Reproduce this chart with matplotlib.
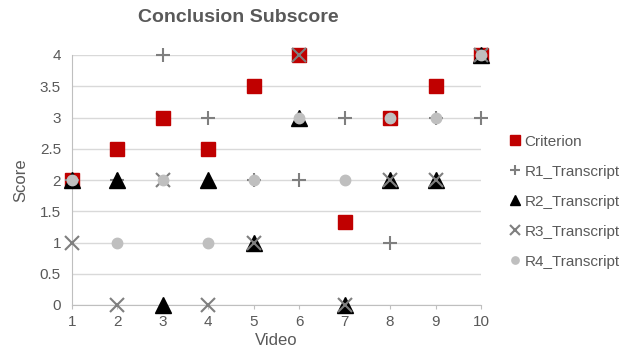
import matplotlib
matplotlib.use('Agg')
import matplotlib.pyplot as plt
from matplotlib.lines import Line2D

plt.rcParams['font.family'] = ['Liberation Sans', 'DejaVu Sans']

# ---- data ----
videos = [1, 2, 3, 4, 5, 6, 7, 8, 9, 10]
criterion = [2, 2.5, 3, 2.5, 3.5, 4, 1.33, 3, 3.5, 4]
r1 = [2, 2, 4, 3, 2, 2, 3, 1, 3, 3]
r2 = [2, 2, 0, 2, 1, 3, 0, 2, 2, 4]
r3 = [1, 0, 2, 0, 1, 4, 0, 2, 2, 4]
r4 = [2, 1, 2, 1, 2, 3, 2, 3, 3, 4]
y_ticks = [0, 0.5, 1, 1.5, 2, 2.5, 3, 3.5, 4]

TEXT = '#595959'
GRID = '#D9D9D9'

fig = plt.figure(figsize=(6.23, 3.64), dpi=100)
ax = fig.add_axes([72 / 623, 1 - 305 / 364, (481 - 72) / 623, 250 / 364])

series = [
    ('Criterion', criterion, dict(marker='s', color='#C00000', ms=10.5)),
    ('R1_Transcript', r1, dict(marker='+', color='#7F7F7F', ms=10, mew=1.5)),
    ('R2_Transcript', r2, dict(marker='^', color='#000000', ms=11)),
    ('R3_Transcript', r3, dict(marker='x', color='#7F7F7F', ms=10, mew=1.5)),
    ('R4_Transcript', r4, dict(marker='o', color='#BFBFBF', ms=7.5)),
]
for name, vals, style in series:
    ax.plot(videos, vals, linestyle='none', clip_on=False, zorder=3,
            label=name, **style)

ax.set_xlim(1, 10)
ax.set_ylim(0, 4)
ax.set_xticks(videos)
ax.set_yticks(y_ticks)
ax.set_yticklabels(['0', '0.5', '1', '1.5', '2', '2.5', '3', '3.5', '4'])
ax.grid(axis='y', color=GRID, linewidth=1)
ax.set_axisbelow(True)
for side in ['top', 'right']:
    ax.spines[side].set_visible(False)
for side in ['left', 'bottom']:
    ax.spines[side].set_color('#BFBFBF')
ax.tick_params(colors=TEXT, labelsize=11, length=0, pad=8)
ax.tick_params(axis='x', length=3, color='#BFBFBF', direction='out', pad=4)

ax.set_xlabel('Video', color=TEXT, fontsize=12, labelpad=3)
ax.set_ylabel('Score', color=TEXT, fontsize=12, labelpad=8)

fig.text(238 / 623, 1 - 18 / 364, 'Conclusion Subscore', ha='center',
         va='center', fontsize=14, fontweight='bold', color=TEXT)

handles = [Line2D([], [], linestyle='none', **dict(s[2], ms=s[2]['ms'] * 0.7))
           for s in series]
fig.legend(handles, [s[0] for s in series], loc='upper left',
           bbox_to_anchor=(503 / 623, 1 - 127 / 364), frameon=False,
           fontsize=11, labelcolor=TEXT, handlelength=0.6, handletextpad=0.3,
           labelspacing=1.05, borderpad=0)

fig.savefig('out.png', dpi=100)
